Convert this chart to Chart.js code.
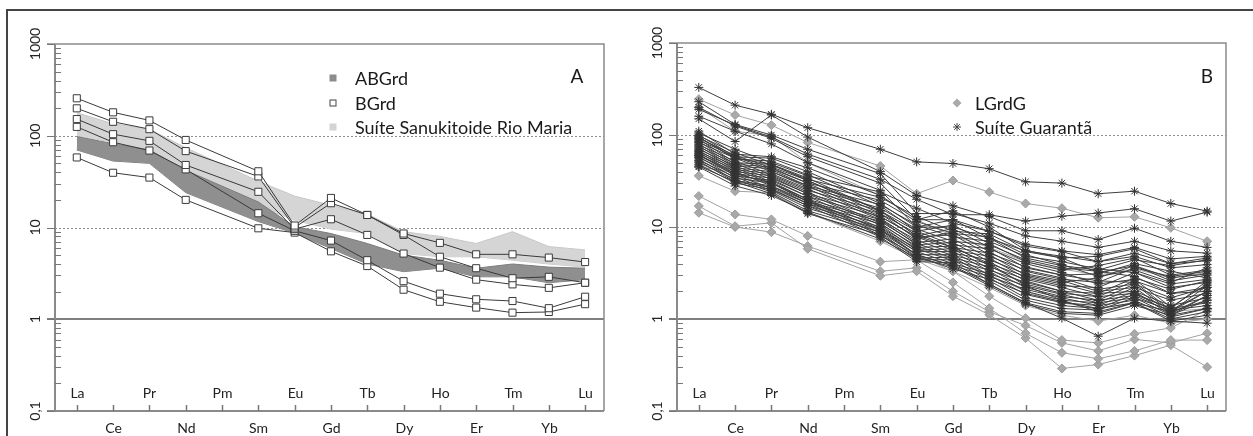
<!DOCTYPE html>
<html>
<head>
<meta charset="utf-8">
<script src="https://cdn.jsdelivr.net/npm/chart.js@4/dist/chart.umd.min.js"></script>
<style>
body { margin:0; background:#fff; width:1253px; height:436px; overflow:hidden; position:relative; }
#frame { position:absolute; left:6px; top:9px; width:1300px; height:500px; border-left:2px solid #444; border-top:2px solid #444; }
#ca { position:absolute; left:0; top:0; }
#cb { position:absolute; left:620px; top:0; }
</style>
</head>
<body>
<div id="frame"></div>
<canvas id="ca" width="620" height="436"></canvas>
<canvas id="cb" width="633" height="436"></canvas>
<script>
// REE, chondrite normalised
const elements = ['La','Ce','Pr','Nd','Pm','Sm','Eu','Gd','Tb','Dy','Ho','Er','Tm','Yb','Lu'];
const yTickValues = [0.1, 1, 10, 100, 1000];
const yTickLabels = ['0,1', '1', '10', '100', '1000'];

// panel A
const bgrdSamples = [
  [256, 180, 147, 90, null, 41, 10.5, 21, 13.7, 8.6, 6.8, 5.1, 5.1, 4.7, 4.2],
  [199, 142, 118, 68, null, 36, 10.0, 18.4, 13.7, 8.3, 4.8, 3.6, 2.8, 2.9, 2.5],
  [152, 104, 88, 48, null, 24.5, 9.6, 12.3, 8.3, 5.2, 3.65, 2.7, 2.4, 2.2, 2.5],
  [125, 85, 69, 43, null, 14.3, 9.2, 7.2, 4.4, 2.6, 1.9, 1.65, 1.58, 1.32, 1.76],
  [58, 39.5, 35, 20, null, 9.8, 8.8, 5.5, 3.8, 2.1, 1.55, 1.34, 1.18, 1.2, 1.46]
];
const abgrdUpper = [98, 82, 70, 42, null, 19, 10.2, 8.6, 6.7, 5.0, 4.4, 3.6, 4.0, 3.7, 3.6];
const abgrdLower = [70, 53, 50, 24, null, 11.6, 8.7, 5.9, 4.0, 3.3, 3.6, 2.9, 2.9, 2.5, 2.7];
const rioMariaUpper = [178, 135, 118, 74, null, 32, 22, 17.5, 14, 9, 8, 6.7, 9, 6.2, 5.7];
const rioMariaLower = [100, 85, 66, 40, null, 17, 12, 9.6, 8.6, 5.2, 4.8, 4.8, 4.4, 4.0, 3.7];

// panel B
const lgrdgSamples = [
  [245, 165, 128, 83, null, 46, 23, 32, 24, 18, 16, 12.6, 12.9, 9.8, 7.0],
  [200, 110, 98, 50, null, 22, 12, 8, 6, 4.2, 3.5, 3.0, 3.5, 2.8, 3.2],
  [45, 39, 26, 18, null, 9, 6, 4.5, 3, 2, 1.5, 1.3, 1.5, 1.2, 1.3],
  [60, 38, 30, 20, null, 8, 5, 3.3, 2.2, 1.4, 1.1, 0.95, 1.1, 0.9, 1.0],
  [36, 24.5, 23.6, 14.3, null, 7, 4.5, 3.3, 1.77, 1.02, 0.59, 0.55, 0.69, 0.8, 1.26],
  [21.7, 13.7, 12.1, 8.0, null, 4.2, 4.4, 2.5, 1.31, 0.70, 0.43, 0.37, 0.45, 0.59, 0.59],
  [16.9, 10.2, 11.1, 5.8, null, 2.95, 3.3, 1.77, 1.11, 0.62, 0.29, 0.32, 0.40, 0.52, 0.30],
  [14.3, 10.0, 8.8, 6.2, null, 3.3, 3.6, 2.0, 1.2, 0.85, 0.55, 0.45, 0.6, 0.55, 0.7]
];
const guarantaSamples = [
  [329, 211, 168, 120, null, 70, 51, 49, 43, 31, 30, 23, 24.5, 18, 14.9],
  [190, 128, 95, 62, null, 33, 20, 13.6, 13.6, 11.6, 13.1, 14.2, 15.8, 11.6, 14.5],
  [150, 85, 165, 95, null, 40, 22, 17, 13, 9.1, 9.1, 7.3, 9.7, 7.0, 6.0],
  [230, 130, 100, 70, null, 38, 14, 14, 11, 8, 7, 6, 7, 5.5, 5.2],
  [200, 125, 92, 58, null, 30, 12, 12, 9, 6.5, 5.5, 5.0, 6.0, 4.5, 4.8],
  [160, 110, 80, 50, null, 25, 10, 10, 7.5, 5.5, 4.8, 4.2, 5.2, 4.0, 4.3],
  [110, 62, 58, 44, null, 22, 12, 15, 10, 5.6, 4.6, 4.8, 5.8, 4.0, 4.6],
  [105, 70, 50, 36, null, 24, 16, 11, 9.0, 6.2, 5.4, 4.2, 4.8, 3.6, 3.9],
  [100, 58, 56, 40, null, 18, 10, 12, 7.6, 4.6, 3.8, 3.4, 4.4, 3.8, 4.4],
  [98, 64, 47, 33, null, 21, 13, 9.0, 8.4, 5.4, 4.6, 3.2, 3.8, 2.8, 3.1],
  [95, 55, 52, 37, null, 17, 9.0, 10.5, 6.6, 4.2, 3.4, 3.8, 4.6, 3.0, 3.4],
  [92, 60, 44, 30, null, 19.5, 11.5, 8.5, 7.8, 5.0, 3.9, 2.9, 3.4, 2.5, 3.6],
  [90, 50, 48, 34, null, 15, 8.0, 9.6, 6.0, 3.6, 3.0, 3.1, 4.0, 3.3, 2.8],
  [88, 58, 42, 28, null, 17.5, 10.5, 7.8, 7.0, 4.8, 4.2, 3.5, 3.2, 2.2, 2.5],
  [85, 48, 45, 32, null, 14, 7.4, 8.8, 5.4, 3.3, 2.7, 2.5, 3.6, 2.9, 3.3],
  [83, 56, 40, 27, null, 16, 9.5, 7.0, 6.4, 4.4, 3.6, 3.3, 2.9, 1.9, 2.2],
  [80, 46, 43, 30, null, 13, 7.8, 8.2, 5.0, 3.0, 2.5, 2.8, 3.8, 2.6, 3.0],
  [78, 52, 37, 25, null, 15, 9, 6.4, 5.8, 4.0, 3.2, 2.4, 2.7, 1.35, 2.4],
  [76, 44, 40, 28, null, 12.5, 6.8, 7.4, 4.6, 2.8, 2.3, 2.2, 3.2, 2.4, 2.7],
  [74, 49, 35, 23, null, 14, 8.5, 6.0, 5.2, 3.7, 3.0, 2.6, 2.5, 1.25, 2.0],
  [72, 42, 38, 26, null, 12, 6.4, 6.8, 4.2, 2.6, 2.0, 1.9, 2.8, 2.1, 2.6],
  [70, 46, 33, 21.5, null, 13, 7.8, 5.6, 4.8, 3.4, 2.8, 2.1, 2.4, 1.2, 2.3],
  [68, 40, 36, 24, null, 11, 6.0, 6.2, 3.8, 2.4, 1.9, 1.75, 2.6, 1.9, 2.0],
  [66, 44, 31, 20, null, 12, 7.2, 5.2, 4.4, 3.1, 2.6, 2.0, 2.2, 1.15, 1.8],
  [65, 38, 34, 23, null, 10.5, 5.6, 5.8, 3.5, 2.2, 1.75, 1.6, 2.4, 1.7, 2.2],
  [63, 42, 30, 19, null, 11.5, 6.6, 4.9, 4.0, 2.9, 2.4, 1.9, 2.0, 1.1, 1.6],
  [62, 36, 32, 21.5, null, 9.8, 5.4, 5.4, 3.3, 2.0, 1.6, 1.5, 2.2, 1.6, 1.9],
  [60, 40, 28, 18, null, 10.8, 6.2, 4.6, 3.7, 2.7, 2.2, 1.75, 1.9, 1.3, 2.6],
  [58, 34, 30, 20, null, 9.2, 5.0, 5.0, 3.0, 1.85, 1.5, 1.4, 2.0, 1.4, 1.7],
  [57, 37, 26, 17, null, 10, 5.8, 4.3, 3.4, 2.5, 2.0, 1.6, 1.8, 1.2, 2.0],
  [55, 32, 28, 19, null, 8.6, 4.6, 4.7, 2.8, 1.7, 1.4, 1.3, 1.85, 1.3, 1.5],
  [53, 35, 25, 16, null, 9.4, 5.4, 4.0, 3.1, 2.3, 1.85, 1.5, 1.7, 1.1, 1.8],
  [52, 31, 27, 18, null, 8.2, 4.4, 4.4, 2.6, 1.6, 1.3, 1.25, 1.7, 1.25, 1.4],
  [50, 33, 24, 15, null, 8.8, 5.0, 3.8, 2.9, 2.1, 1.7, 1.4, 1.6, 1.05, 1.3],
  [48, 30, 25.5, 17, null, 7.8, 4.2, 4.1, 2.4, 1.5, 1.2, 1.15, 1.5, 1.2, 1.6],
  [46, 31, 23, 14, null, 8.2, 4.8, 3.5, 2.7, 1.9, 1.55, 1.3, 1.5, 1.0, 1.2],
  [45, 28, 22, 14.5, null, 7.4, 4.6, 3.7, 2.3, 1.45, 1.15, 1.1, 1.4, 1.1, 1.3],
  [60, 38, 30, 19, null, 9.5, 5.0, 3.8, 2.4, 1.5, 1.02, 0.65, 1.02, 0.95, 0.9],
  [95, 56, 48, 32, null, 15, 8, 6, 4, 2.3, 1.6, 1.2, 1.5, 0.95, 1.1]
];

const FONT = "Lato, 'DejaVu Sans', sans-serif";

function toPoints(arr) {
  return arr.map((v, i) => v == null ? null : {x: i, y: v}).filter(p => p);
}

const reeFrame = {
  id: 'reeFrame',
  beforeDatasetsDraw(chart, args, opts) {
    const {ctx, chartArea: a, scales: {y}} = chart;
    ctx.save();
    ctx.strokeStyle = '#8f8f8f';
    ctx.lineWidth = 1;
    ctx.setLineDash([2, 2]);
    [10, 100].forEach(v => {
      const py = Math.round(y.getPixelForValue(v)) + 0.5;
      ctx.beginPath(); ctx.moveTo(a.left - 8, py); ctx.lineTo(a.right, py); ctx.stroke();
    });
    ctx.setLineDash([]);
    ctx.strokeStyle = '#555';
    ctx.lineWidth = 1.5;
    const p1 = Math.round(y.getPixelForValue(1));
    ctx.beginPath(); ctx.moveTo(a.left - 8, p1); ctx.lineTo(a.right, p1); ctx.stroke();
    ctx.restore();
  },
  afterDatasetsDraw(chart, args, opts) {
    const {ctx, chartArea: a, scales: {x, y}} = chart;
    ctx.save();
    // box
    ctx.strokeStyle = '#8a8a8a';
    ctx.lineWidth = 1.5;
    ctx.beginPath();
    ctx.moveTo(a.left - 8, a.top); ctx.lineTo(a.right, a.top); ctx.lineTo(a.right, a.bottom);
    ctx.stroke();
    ctx.lineWidth = 2;
    ctx.beginPath();
    ctx.moveTo(a.left, a.top); ctx.lineTo(a.left, a.bottom); ctx.lineTo(a.right, a.bottom);
    ctx.moveTo(a.left - 8, a.bottom); ctx.lineTo(a.left, a.bottom);
    ctx.stroke();

    // y ticks
    ctx.lineWidth = 1;
    ctx.strokeStyle = '#777';
    yTickValues.forEach((v, k) => {
      const py = Math.round(y.getPixelForValue(v)) + 0.5;
      ctx.beginPath(); ctx.moveTo(a.left - 8, py); ctx.lineTo(a.left, py); ctx.stroke();
      if (k < yTickValues.length - 1) {
        for (let m = 2; m <= 9; m++) {
          const pm = Math.round(y.getPixelForValue(v * m)) + 0.5;
          ctx.beginPath(); ctx.moveTo(a.left, pm); ctx.lineTo(a.left + 6, pm); ctx.stroke();
        }
      }
    });
    ctx.fillStyle = '#222';
    ctx.font = '14px ' + FONT;
    ctx.textAlign = 'center';
    ctx.textBaseline = 'middle';
    yTickValues.forEach((v, k) => {
      ctx.save();
      ctx.translate(a.left - 20, y.getPixelForValue(v));
      ctx.rotate(-Math.PI / 2);
      ctx.fillText(yTickLabels[k], 0, 0);
      ctx.restore();
    });

    // x ticks + element labels
    ctx.strokeStyle = '#777';
    ctx.lineWidth = 1.5;
    elements.forEach((el, i) => {
      const px = Math.round(x.getPixelForValue(i)) + 0.5;
      ctx.beginPath(); ctx.moveTo(px, a.bottom); ctx.lineTo(px, a.bottom - 6); ctx.stroke();
      ctx.fillText(el, px, i % 2 === 0 ? a.bottom - 18 : a.bottom + 17);
    });

    // legend + panel letter
    ctx.font = '18px ' + FONT;
    ctx.textAlign = 'left';
    ctx.fillStyle = '#1a1a1a';
    opts.items.forEach(it => {
      drawMarker(ctx, it.kind, opts.markerX, it.y);
      ctx.fillText(it.label, opts.textX, it.y + 1);
    });
    ctx.font = '19px ' + FONT;
    ctx.textAlign = 'center';
    ctx.fillText(opts.letter, opts.letterX, opts.letterY);
    ctx.restore();
  }
};

function drawMarker(ctx, kind, cx, cy) {
  ctx.save();
  ctx.lineWidth = 1;
  if (kind === 'dark' || kind === 'light' || kind === 'open') {
    ctx.fillStyle = kind === 'dark' ? '#8c8c8c' : kind === 'light' ? '#d3d3d3' : '#fff';
    ctx.fillRect(cx - 3.5, cy - 3.5, 7, 7);
    if (kind === 'open') { ctx.strokeStyle = '#444'; ctx.strokeRect(cx - 3, cy - 3, 6, 6); }
  } else if (kind === 'diamond') {
    ctx.fillStyle = '#a9a9a9';
    ctx.beginPath();
    ctx.moveTo(cx, cy - 4.5); ctx.lineTo(cx + 4.5, cy); ctx.lineTo(cx, cy + 4.5); ctx.lineTo(cx - 4.5, cy);
    ctx.closePath(); ctx.fill();
  } else if (kind === 'star') {
    ctx.strokeStyle = '#444';
    const r = 4;
    ctx.beginPath();
    for (let k = 0; k < 4; k++) {
      const ang = k * Math.PI / 4;
      ctx.moveTo(cx - r * Math.cos(ang), cy - r * Math.sin(ang));
      ctx.lineTo(cx + r * Math.cos(ang), cy + r * Math.sin(ang));
    }
    ctx.stroke();
  }
  ctx.restore();
}

function baseOptions(pad, frameOpts) {
  return {
    responsive: false,
    animation: false,
    layout: {padding: pad},
    scales: {
      x: {type: 'linear', min: -0.6, max: 14.52, display: false},
      y: {type: 'logarithmic', min: 0.1, max: 1000, display: false}
    },
    elements: {line: {tension: 0}},
    plugins: {legend: {display: false}, tooltip: {enabled: false}, reeFrame: frameOpts}
  };
}

// ---- panel A
const dsA = [];
bgrdSamples.forEach(s => dsA.push({
  data: toPoints(s), borderColor: '#3a3a3a', borderWidth: 1,
  pointStyle: 'rect', pointRadius: 5, pointBackgroundColor: '#fff',
  pointBorderColor: '#3a3a3a', pointBorderWidth: 1, fill: false
}));
dsA.push({data: toPoints(abgrdUpper), borderColor: '#7d7d7d', borderWidth: 1, pointRadius: 0,
  backgroundColor: '#8f8f8f', fill: '+1'});
dsA.push({data: toPoints(abgrdLower), borderColor: '#7d7d7d', borderWidth: 1, pointRadius: 0, fill: false});
dsA.push({data: toPoints(rioMariaUpper), borderColor: '#c8c8c8', borderWidth: 1, pointRadius: 0,
  backgroundColor: '#d5d5d5', fill: '+1'});
dsA.push({data: toPoints(rioMariaLower), borderColor: '#c8c8c8', borderWidth: 1, pointRadius: 0, fill: false});

new Chart(document.getElementById('ca'), {
  type: 'line',
  data: {datasets: dsA},
  options: baseOptions({left: 55, top: 44, right: 16, bottom: 25}, {
    markerX: 333, textX: 355, letter: 'A', letterX: 577, letterY: 77,
    items: [
      {label: 'ABGrd', kind: 'dark', y: 78},
      {label: 'BGrd', kind: 'open', y: 103},
      {label: 'Suíte Sanukitoide Rio Maria', kind: 'light', y: 127}
    ]
  }),
  plugins: [reeFrame]
});

// ---- panel B
const dsB = [];
guarantaSamples.forEach(s => dsB.push({
  data: toPoints(s), borderColor: '#3e3e3e', borderWidth: 1,
  pointStyle: 'star', pointRadius: 4.5, pointBorderColor: '#333', pointBorderWidth: 1, fill: false
}));
lgrdgSamples.forEach(s => dsB.push({
  data: toPoints(s), borderColor: '#a2a2a2', borderWidth: 1,
  pointStyle: 'rectRot', pointRadius: 4.5, pointBackgroundColor: '#a9a9a9',
  pointBorderColor: '#9c9c9c', pointBorderWidth: 1, fill: false
}));

new Chart(document.getElementById('cb'), {
  type: 'line',
  data: {datasets: dsB},
  options: baseOptions({left: 57, top: 43, right: 27, bottom: 25}, {
    markerX: 337, textX: 355, letter: 'B', letterX: 587, letterY: 77,
    items: [
      {label: 'LGrdG', kind: 'diamond', y: 103},
      {label: 'Suíte Guarantã', kind: 'star', y: 127}
    ]
  }),
  plugins: [reeFrame]
});
</script>
</body>
</html>
